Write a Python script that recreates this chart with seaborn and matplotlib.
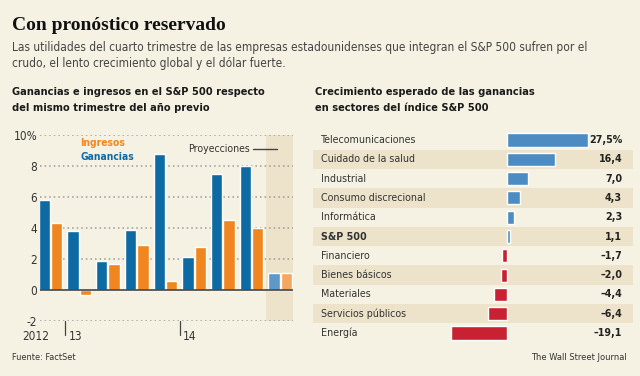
import numpy as np
import pandas as pd
import matplotlib
matplotlib.use("Agg")
import matplotlib.pyplot as plt
import matplotlib.transforms as mtransforms
import seaborn as sns

# left chart: year-over-year change, S&P 500 (quarters Q4 2012 .. Q4 2014, last one projected)
quarters = ["4T12", "1T13", "2T13", "3T13", "4T13", "1T14", "2T14", "3T14", "4T14"]
ganancias = [5.8, 3.8, 1.9, 3.9, 8.8, 2.1, 7.5, 8.0, 1.1]
ingresos = [4.3, -0.3, 1.7, 2.9, 0.6, 2.8, 4.5, 4.0, 1.1]
y_ticks = [-2, 0, 2, 4, 6, 8, 10]
y_labels = ["-2", "0", "2", "4", "6", "8", "10%"]

# right chart: expected earnings growth by sector
sectores = ["Telecomunicaciones", "Cuidado de la salud", "Industrial",
            "Consumo discrecional", "Informática", "S&P 500", "Financiero",
            "Bienes básicos", "Materiales", "Servicios públicos", "Energía"]
crecimiento = [27.5, 16.4, 7.0, 4.3, 2.3, 1.1, -1.7, -2.0, -4.4, -6.4, -19.1]
etiquetas = ["27,5%", "16,4", "7,0", "4,3", "2,3", "1,1", "–1,7", "–2,0",
             "–4,4", "–6,4", "–19,1"]

BG = "#f6f2e3"
BAND = "#ece3ca"
BLUE = "#0d6aa3"
ORANGE = "#f0861f"
BLUE_L = "#5f98c6"
ORANGE_L = "#f5a661"
POS = "#4d8cc3"
NEG = "#c82131"
TXT = "#333333"

sns.set_theme(style="white")
plt.rcParams["font.family"] = ["DejaVu Sans"]
plt.rcParams["font.stretch"] = "condensed"

fig = plt.figure(figsize=(6.4, 3.76), dpi=100, facecolor=BG)

# ---- headings
fig.text(12 / 640, 1 - 30 / 376, "Con pronóstico reservado", fontsize=14,
         fontweight="bold", color="#111111", family=["Liberation Serif", "DejaVu Serif"],
         fontstretch="normal")
fig.text(12 / 640, 1 - 51 / 376,
         "Las utilidades del cuarto trimestre de las empresas estadounidenses que integran el S&P 500 sufren por el",
         fontsize=8.6, color="#444444")
fig.text(12 / 640, 1 - 67 / 376, "crudo, el lento crecimiento global y el dólar fuerte.",
         fontsize=8.6, color="#444444")
fig.text(12 / 640, 1 - 95 / 376, "Ganancias e ingresos en el S&P 500 respecto",
         fontsize=7.9, color="#1a1a1a", fontweight="bold")
fig.text(12 / 640, 1 - 111 / 376, "del mismo trimestre del año previo",
         fontsize=7.9, color="#1a1a1a", fontweight="bold")
fig.text(315 / 640, 1 - 95 / 376, "Crecimiento esperado de las ganancias",
         fontsize=7.9, color="#1a1a1a", fontweight="bold")
fig.text(315 / 640, 1 - 111 / 376, "en sectores del índice S&P 500",
         fontsize=7.9, color="#1a1a1a", fontweight="bold")
fig.text(12 / 640, 1 - 360 / 376, "Fuente: FactSet", fontsize=6.6, color=TXT)
fig.text(627 / 640, 1 - 360 / 376, "The Wall Street Journal", fontsize=6.7,
         color=TXT, ha="right")

# ---- left chart
ax = fig.add_axes([40 / 640, (376 - 321) / 376, 253 / 640, 186 / 376])
ax.set_facecolor("none")
df = pd.DataFrame({
    "trimestre": quarters * 2,
    "serie": ["Ganancias"] * len(quarters) + ["Ingresos"] * len(quarters),
    "valor": ganancias + ingresos,
})
sns.barplot(data=df, x="trimestre", y="valor", hue="serie",
            palette={"Ganancias": BLUE, "Ingresos": ORANGE},
            width=0.86, gap=0.08, legend=False, ax=ax, saturation=1)
n = len(quarters)
for i, p in enumerate(ax.patches[:2 * n]):
    if i % n == n - 1:
        p.set_facecolor(BLUE_L if i < n else ORANGE_L)
ax.set_xlim(-0.37, n - 0.55)
ax.set_ylim(-2, 10)
ax.axvspan(n - 1.5, n, color=BAND, zorder=0, lw=0)
for t in y_ticks:
    if t != 0:
        ax.axhline(t, color="#9a9a9a", lw=1.1, ls=(0, (1, 2)), zorder=0.5)
ax.axhline(0, color="#444444", lw=1.2, zorder=3)
ax.set_yticks(y_ticks)
ax.set_yticklabels(y_labels, fontsize=8.5, color=TXT)
ax.tick_params(axis="y", length=0, pad=2)
ax.set_xticks(np.arange(0.5, n - 1, 1.0))
ax.set_xticklabels([])
ax.tick_params(axis="x", length=3, width=0.8, color="#555555", direction="out", pad=0)
for s in ax.spines.values():
    s.set_visible(False)
ax.set_xlabel("")
ax.set_ylabel("")
trans = mtransforms.blended_transform_factory(ax.transData, ax.transAxes)
for xpos, lab in [(0.5, "13"), (4.5, "14")]:
    ax.plot([xpos, xpos], [0, -0.075], color="#444444", lw=0.9, transform=trans,
            clip_on=False)
    ax.text(xpos + 0.12, -0.085, lab, transform=trans, fontsize=8.5, color=TXT,
            va="center")
ax.text(-1.0, -0.085, "2012", transform=trans, fontsize=8.5, color=TXT,
        va="center")
ax.text(1.03, 9.5, "Ingresos", fontsize=7.4, color=ORANGE, fontweight="bold", va="center")
ax.text(1.03, 8.6, "Ganancias", fontsize=7.4, color=BLUE, fontweight="bold", va="center")
ax.text(4.79, 9.1, "Proyecciones", fontsize=7.6, color=TXT, va="center")
ax.plot([7.06, 7.9], [9.1, 9.1], color="#444444", lw=1.0)

# ---- right chart
ax2 = fig.add_axes([313 / 640, (376 - 342.6) / 376, 320 / 640, 212.2 / 376])
ax2.set_facecolor("none")
sdf = pd.DataFrame({"sector": sectores, "crecimiento": crecimiento})
sdf["signo"] = np.where(sdf["crecimiento"] >= 0, "pos", "neg")
sns.barplot(data=sdf, y="sector", x="crecimiento", hue="signo",
            palette={"pos": POS, "neg": NEG}, orient="h", width=0.68,
            legend=False, ax=ax2, saturation=1, dodge=False)
ax2.set_xlim(-65.8, 42.7)
ax2.set_ylim(len(sectores) - 0.5, -0.5)
for i in range(1, len(sectores), 2):
    ax2.axhspan(i - 0.5, i + 0.5, color=BAND, zorder=0, lw=0)
for i, (name, lab) in enumerate(zip(sectores, etiquetas)):
    bold = name == "S&P 500"
    ax2.text(-63.2, i, name, va="center", ha="left", fontsize=7.7, color=TXT,
             fontweight="bold" if bold else "normal")
    ax2.text(39.0, i, lab, va="center", ha="right", fontsize=7.7, color="#222222",
             fontweight="bold")
ax2.set_xticks([])
ax2.set_yticks([])
ax2.set_xlabel("")
ax2.set_ylabel("")
for s in ax2.spines.values():
    s.set_visible(False)

fig.savefig("out.png", dpi=100, facecolor=BG)
